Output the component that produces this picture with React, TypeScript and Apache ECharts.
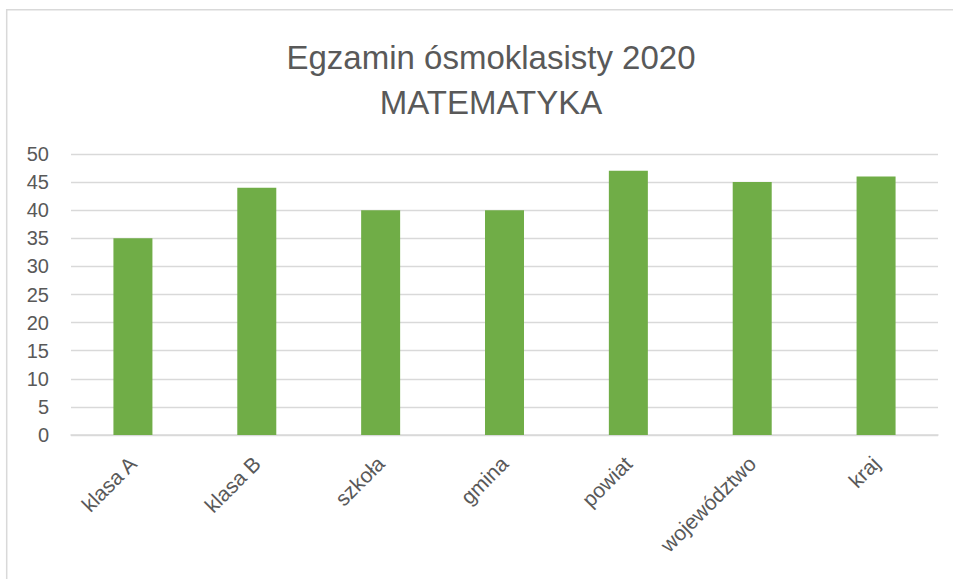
import React, { useEffect, useRef } from "react";
import * as echarts from "echarts";

const categories: string[] = ["klasa A", "klasa B", "szkoła", "gmina", "powiat", "województwo", "kraj"];
const values: number[] = [35, 44, 40, 40, 47, 45, 46];
const titleLines: string[] = ["Egzamin ósmoklasisty 2020", "MATEMATYKA"];
const yMin = 0;
const yMax = 50;
const yStep = 5;

export default function App() {
  const ref = useRef<HTMLDivElement>(null);
  useEffect(() => {
    if (!ref.current) return;
    const chart = echarts.init(ref.current, undefined, { renderer: "svg" });
    const font = "'Liberation Sans', Arial, sans-serif";
    chart.setOption({
      animation: false,
      backgroundColor: "#ffffff",
      title: {
        text: titleLines.join("\n"),
        left: 486,
        top: 30,
        textAlign: "center",
        textStyle: {
          fontFamily: font,
          fontSize: 33,
          fontWeight: "normal",
          color: "#595959",
          lineHeight: 45,
        },
      },
      graphic: [
        {
          type: "rect",
          shape: { x: 6.7, y: 9.7, width: 2000, height: 2000 },
          style: { fill: "none", stroke: "#d9d9d9", lineWidth: 1.5 },
          silent: true,
          z: -1,
        },
      ],
      grid: { left: 71, right: 15, top: 154, bottom: 144, containLabel: false },
      xAxis: {
        type: "category",
        data: categories,
        axisLine: { show: true, lineStyle: { color: "#d9d9d9", width: 1.5 } },
        axisTick: { show: false },
        axisLabel: {
          rotate: 45,
          interval: 0,
          margin: 25,
          color: "#595959",
          fontFamily: font,
          fontSize: 21,
        },
      },
      yAxis: {
        type: "value",
        min: yMin,
        max: yMax,
        interval: yStep,
        axisLine: { show: false },
        axisTick: { show: false },
        splitLine: { lineStyle: { color: "#d9d9d9", width: 1.3 } },
        axisLabel: {
          margin: 22,
          color: "#595959",
          fontFamily: font,
          fontSize: 20,
        },
      },
      series: [
        {
          type: "bar",
          data: values,
          barWidth: 39,
          itemStyle: { color: "#70ad47" },
        },
      ],
    });
    return () => chart.dispose();
  }, []);
  return (
    <div
      ref={ref}
      style={{ position: "fixed", left: 0, top: 0, width: 953, height: 579 }}
    />
  );
}
